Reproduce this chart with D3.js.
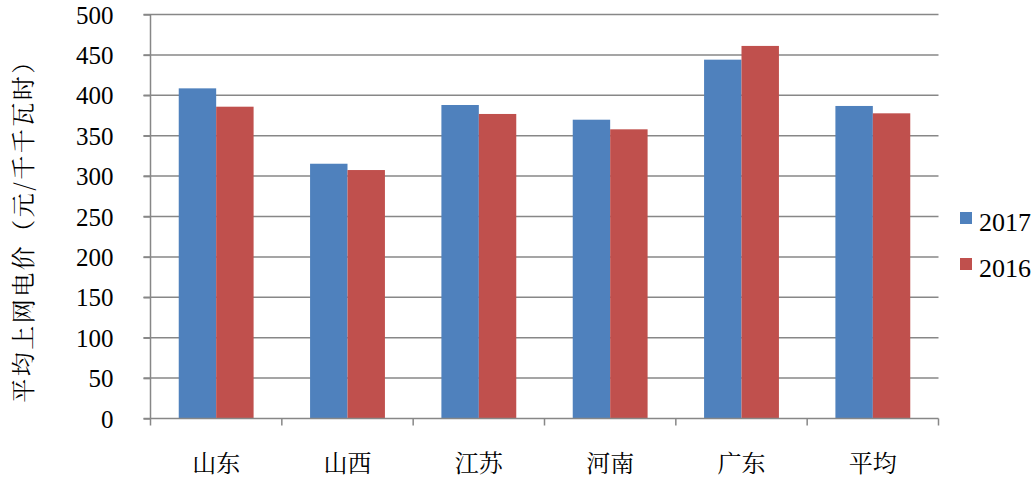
<!DOCTYPE html>
<html>
<head>
<meta charset="utf-8">
<script src="https://cdn.jsdelivr.net/npm/d3@7"></script>
<style>
  html, body { margin: 0; padding: 0; background: #fff; }
  svg { display: block; }
</style>
</head>
<body>
<svg id="chart" width="1036" height="478"></svg>
<script>
const categories = ["山东", "山西", "江苏", "河南", "广东", "平均"];
const seriesNames = ["2017", "2016"];
const values2017 = [408.6, 315.3, 388.0, 369.8, 444.1, 386.8];
const values2016 = [385.9, 307.5, 376.9, 357.9, 461.1, 377.7];
const yTicks = [0, 50, 100, 150, 200, 250, 300, 350, 400, 450, 500];
const yTitle = "平均上网电价（元/千千瓦时）";
const colors = ["#4F81BD", "#C0504D"];

(function () {
const seriesValues = [values2017, values2016];
const svg = d3.select("#chart");
const pLeft = 150.5, pRight = 938.5, pTop = 14.5, pBottom = 418.5;
const NUM = "'Liberation Serif', serif";
const CJK = "'Noto Serif CJK SC', 'Noto Sans CJK SC', serif";

const x = d3.scaleBand().domain(categories).range([pLeft, pRight])
  .paddingInner(0.43).paddingOuter(0.215);
const xs = d3.scaleBand().domain(seriesNames).range([0, x.bandwidth()]);
const y = d3.scaleLinear().domain([0, 500]).range([pBottom, pTop]);

// gridlines
svg.append("g").selectAll("line").data(yTicks.filter(d => d > 0)).join("line")
  .attr("x1", pLeft - 7).attr("x2", pRight)
  .attr("y1", d => y(d)).attr("y2", d => y(d))
  .attr("stroke", "#878787").attr("stroke-width", 1.5);

// bars
const data = [];
categories.forEach((c, i) => seriesNames.forEach((s, j) => data.push({c, s, v: seriesValues[j][i], j})));
svg.append("g").selectAll("rect").data(data).join("rect")
  .attr("x", d => x(d.c) + xs(d.s))
  .attr("width", xs.bandwidth())
  .attr("y", d => y(d.v))
  .attr("height", d => y(0) - y(d.v))
  .attr("fill", d => colors[d.j]);

// y axis
const yAxis = d3.axisLeft(y).tickValues(yTicks).tickSize(7).tickPadding(30).tickFormat(d3.format("d"));
const ya = svg.append("g").attr("transform", `translate(${pLeft},0)`).call(yAxis)
  .attr("font-family", NUM).attr("font-size", 25);
ya.select(".domain").attr("stroke", "#878787").attr("stroke-width", 1.5).attr("d", `M0,${pTop}V${pBottom}`);
ya.selectAll(".tick line").attr("stroke", "#878787").attr("stroke-width", 1.5);
ya.selectAll(".tick text").style("font-family", NUM).style("font-size", "25px").attr("fill", "#000").attr("dy", "0.34em");

// x axis
const boundaries = categories.map((c, i) => pLeft + i * x.step()).concat([pRight]);
svg.append("line").attr("x1", pLeft - 7).attr("x2", pRight).attr("y1", pBottom).attr("y2", pBottom)
  .attr("stroke", "#878787").attr("stroke-width", 1.5);
svg.append("g").selectAll("line").data(boundaries).join("line")
  .attr("x1", d => d).attr("x2", d => d).attr("y1", pBottom).attr("y2", pBottom + 7)
  .attr("stroke", "#878787").attr("stroke-width", 1.5);
svg.append("g").selectAll("text").data(categories).join("text")
  .attr("x", d => x(d) + x.bandwidth() / 2)
  .attr("y", 461)
  .attr("text-anchor", "middle").attr("dominant-baseline", "central")
  .style("font-family", CJK).style("font-size", "24px").attr("fill", "#000")
  .text(d => d);

// y title
svg.append("text")
  .attr("transform", "translate(21,225) rotate(-90)")
  .attr("text-anchor", "middle").attr("dominant-baseline", "central")
  .style("font-family", CJK).style("font-size", "24px").style("letter-spacing", "2.5px").attr("fill", "#000")
  .text(yTitle);

// legend
const lg = svg.append("g").selectAll("g").data(seriesNames).join("g")
  .attr("transform", (d, i) => `translate(960,${218 + i * 46})`);
lg.append("rect").attr("x", 0).attr("y", -6).attr("width", 12).attr("height", 12)
  .attr("fill", (d, i) => colors[i]);
lg.append("text").attr("x", 19).attr("y", 4).attr("dominant-baseline", "central")
  .style("font-family", NUM).style("font-size", "26px").attr("fill", "#000")
  .text(d => d);
})();
</script>
</body>
</html>
